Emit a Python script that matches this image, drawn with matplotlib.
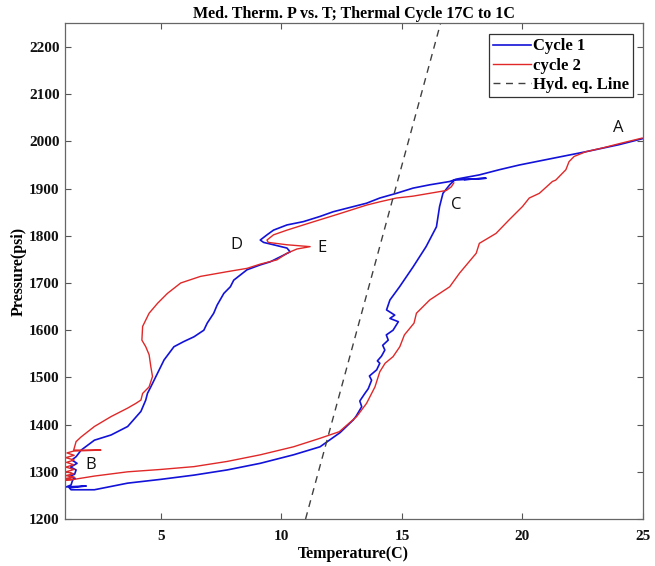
import matplotlib
matplotlib.use("Agg")
import matplotlib.pyplot as plt

# ---- Data ----
cycle1_T = [25.0, 24.0, 22.62, 21.24, 19.87, 19.04, 18.21, 17.25,
            16.98, 16.15, 15.46, 14.77, 14.08, 13.53, 12.15, 11.6, 10.91, 10.23, 9.67, 9.40, 9.12,
            9.26, 9.67, 10.23, 10.36, 10.09, 9.54,
            9.1, 8.57, 8.02, 7.88, 7.61, 7.33, 7.19, 6.92, 6.78, 6.37, 5.95, 5.54, 5.13, 4.86,
            4.58, 4.44, 4.37, 4.17, 3.62, 2.93, 2.24, 1.69, 1.48, 1.30, 1.52, 1.25, 1.48, 1.42,
            1.2, 1.45, 1.34, 1.27, 1.07, 1.9, 1.2, 1.27,
            2.24, 3.62, 4.99, 6.37, 7.75, 9.12, 10.5, 11.6, 12.43,
            12.98, 13.1, 13.33, 13.25, 13.46, 13.6, 13.74, 13.65, 13.95, 14.08, 13.98, 14.15, 14.29,
            14.2, 14.43, 14.35, 14.63, 14.85, 14.5, 14.7, 14.36, 14.5, 14.9, 15.46, 16.0, 16.43,
            16.56, 16.7, 16.98, 17.18, 18.49, 17.6]
cycle1_P = [2006, 1993, 1978, 1964, 1950, 1940, 1929, 1920,
            1915, 1908, 1901, 1890, 1880, 1869, 1851, 1841, 1830, 1823, 1812, 1802, 1791,
            1786, 1781, 1774, 1766, 1759, 1745,
            1738, 1728, 1706, 1692, 1678, 1653, 1636, 1615, 1600, 1586, 1576, 1565, 1537, 1509,
            1480, 1466, 1452, 1428, 1396, 1378, 1367, 1346, 1332, 1325, 1318, 1310, 1304, 1295,
            1290, 1286, 1283, 1272, 1268, 1270, 1266, 1262,
            1262, 1276, 1284, 1293, 1304, 1318, 1336, 1353, 1383,
            1410, 1418, 1438, 1450, 1466, 1476, 1494, 1503, 1516, 1530, 1535, 1545, 1558,
            1568, 1579, 1590, 1600, 1618, 1625, 1632, 1643, 1664, 1692, 1734, 1777, 1819,
            1862, 1890, 1908, 1918, 1922, 1919]

cycle2_T = [17.15, 17.05, 16.84, 16.15, 15.46, 14.77, 14.08, 13.53, 12.36, 11.6, 10.91, 10.23,
            9.67, 9.4, 9.45, 10.23, 11.19, 10.64, 10.23, 9.81, 9.12, 8.57, 7.75, 6.64, 5.82,
            5.27, 4.86, 4.51, 4.24, 4.21, 4.37, 4.51, 4.58, 4.65, 4.51, 4.24, 4.17, 3.96, 3.62,
            2.93, 2.24, 1.69, 1.48, 1.38, 2.51, 1.38,
            1.1, 1.4, 1.05, 1.4, 1.08, 1.38, 1.05, 1.4, 1.06, 1.38, 1.05, 1.4, 1.05, 1.35, 1.05,
            1.27, 2.24, 3.62, 4.99, 6.37, 7.75, 9.12, 10.5, 11.6, 12.4,
            13.12, 13.53, 13.88, 14.08, 14.3, 14.63, 14.91, 15.1, 15.5, 15.6, 16.15, 16.98,
            17.39, 18.08, 18.21, 18.9, 19.45, 20.0, 20.28, 20.7, 21.24, 21.38, 21.8, 21.93,
            22.14, 22.62, 23.31, 24.0, 24.96]
cycle2_P = [1912, 1904, 1896, 1890, 1884, 1880, 1872, 1865, 1846, 1834, 1823, 1812,
            1802, 1791, 1786, 1781, 1777, 1772, 1763, 1749, 1740, 1731, 1724, 1714, 1700,
            1678, 1657, 1636, 1608, 1579, 1565, 1548, 1523, 1502, 1480, 1466, 1452, 1445, 1435,
            1417, 1396, 1374, 1364, 1346, 1346, 1344,
            1340, 1335, 1330, 1325, 1320, 1315, 1310, 1305, 1300, 1296, 1292, 1289, 1286, 1284, 1283,
            1283, 1291, 1300, 1305, 1311, 1322, 1336, 1353, 1371, 1385,
            1417, 1445, 1480, 1512, 1530, 1544, 1565, 1590, 1615, 1636, 1664, 1692,
            1721, 1763, 1784, 1805, 1834, 1862, 1880, 1890, 1915, 1918, 1940, 1957,
            1968, 1978, 1986, 1995, 2007]

hyd_T = [11.0, 16.6]
hyd_P = [1200, 2250]

labels = ["A", "B", "C", "D", "E"]
label_T = [23.96, 2.1, 17.25, 8.14, 11.69]
label_P = [2028, 1314, 1865, 1781, 1774]

serif = "Liberation Serif"

fig = plt.figure(figsize=(6.55, 5.66), dpi=100)
ax = fig.add_axes([0.0985, 0.083, 0.8832, 0.8757])

ax.plot(cycle1_T, cycle1_P, color="#1212d8", lw=1.2, label="Cycle 1")
ax.plot(cycle2_T, cycle2_P, color="#e02828", lw=1.0, label="cycle 2")
ax.plot(hyd_T, hyd_P, color="#404040", lw=1.0, ls=(0, (5, 4)), label="Hyd. eq. Line")

for s, t, p in zip(labels, label_T, label_P):
    ax.text(t, p, s, fontsize=12, family="Open Sans", ha="center", va="center", color="#111111")

ax.set_xlim(1, 25)
ax.set_ylim(1200, 2250)
ax.set_xticks([5, 10, 15, 20, 25])
ax.set_yticks(list(range(1200, 2201, 100)))
ax.tick_params(direction="in", top=True, right=True, length=4, width=0.8, colors="#555555",
               labelcolor="#111111", labelsize=11)
ax.tick_params(axis="x", pad=8)
for lab in ax.get_xticklabels() + ax.get_yticklabels():
    lab.set_family(serif)
    lab.set_fontweight("bold")
for sp in ax.spines.values():
    sp.set_color("#666666")
    sp.set_linewidth(0.9)

ax.set_title("Med. Therm. P vs. T; Thermal Cycle 17C to 1C", family=serif, fontweight="bold",
             fontsize=11.5, pad=4)
ax.set_xlabel("Temperature(C)", family=serif, fontweight="bold", fontsize=11.5, labelpad=2)
ax.set_ylabel("Pressure(psi)", family=serif, fontweight="bold", fontsize=11.5, labelpad=2)

leg = ax.legend(loc="upper right", bbox_to_anchor=(0.983, 0.978), prop={"family": serif, "weight": "bold", "size": 12},
                frameon=True, fancybox=False, edgecolor="#333333", framealpha=1,
                handlelength=2.3, handletextpad=0.1, borderpad=0.25, labelspacing=0.2, borderaxespad=0)
leg.get_frame().set_linewidth(0.9)

fig.savefig("out.png", dpi=100)
